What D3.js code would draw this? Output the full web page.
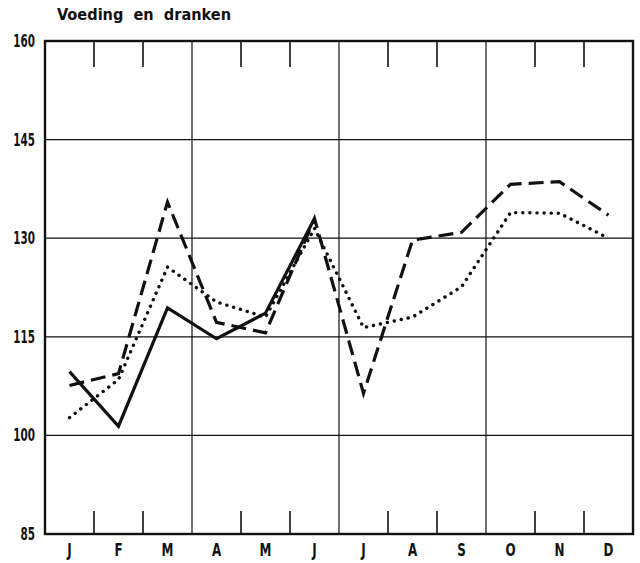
<!DOCTYPE html>
<html>
<head>
<meta charset="utf-8">
<script src="https://cdn.jsdelivr.net/npm/d3@7"></script>
<style>
  body { margin: 0; background: #fff; }
  text { font-family: "DejaVu Sans Condensed", "Liberation Sans Narrow", sans-serif; font-weight: bold; fill: #111; }
</style>
</head>
<body>
<div class="chart"></div>
<script>
// month labels and y ticks
var months = ["J", "F", "M", "A", "M", "J", "J", "A", "S", "O", "N", "D"]
var yTicks = [85, 100, 115, 130, 145, 160]
// three series (solid stops at June)
var solid = [109.7, 101.4, 119.4, 114.7, 118.6, 133.0]
var dashed = [107.6, 109.4, 135.5, 117.2, 115.6, 133.0, 106.4, 129.7, 130.9, 138.2, 138.6, 133.5]
var dotted = [102.7, 108.5, 125.6, 120.3, 118.0, 131.5, 116.4, 118.0, 122.6, 133.9, 133.8, 130.0]

var width = 640
var height = 563
var plotLeft = 45, plotRight = 633, plotTop = 41, plotBottom = 534

var svg = d3.select(".chart")
  .append("svg")
  .attr("width", width)
  .attr("height", height)

var x = d3.scaleBand().domain(d3.range(12)).range([plotLeft, plotRight])
var y = d3.scaleLinear().domain([85, 160]).range([plotBottom, plotTop])

// horizontal grid
svg.selectAll("line.hgrid")
  .data(yTicks.slice(1, -1))
  .enter()
  .append("line")
  .attr("x1", plotLeft).attr("x2", plotRight)
  .attr("y1", d => y(d)).attr("y2", d => y(d))
  .attr("stroke", "#111")
  .attr("stroke-width", 1.2)

// month boundaries: full line every quarter, short ticks otherwise
var bounds = d3.range(1, 12)
svg.selectAll("line.vfull")
  .data(bounds.filter(i => i % 3 == 0))
  .enter()
  .append("line")
  .attr("x1", i => x(i)).attr("x2", i => x(i))
  .attr("y1", plotTop).attr("y2", plotBottom)
  .attr("stroke", "#111")
  .attr("stroke-width", 1.2)

svg.selectAll("line.vtop")
  .data(bounds.filter(i => i % 3 != 0))
  .enter()
  .append("line")
  .attr("x1", i => x(i)).attr("x2", i => x(i))
  .attr("y1", plotTop).attr("y2", plotTop + 26)
  .attr("stroke", "#111")
  .attr("stroke-width", 1.6)

svg.selectAll("line.vbot")
  .data(bounds.filter(i => i % 3 != 0))
  .enter()
  .append("line")
  .attr("x1", i => x(i)).attr("x2", i => x(i))
  .attr("y1", plotBottom).attr("y2", plotBottom - 23)
  .attr("stroke", "#111")
  .attr("stroke-width", 1.6)

// frame
svg.append("rect")
  .attr("x", plotLeft).attr("y", plotTop)
  .attr("width", plotRight - plotLeft).attr("height", plotBottom - plotTop)
  .attr("fill", "none")
  .attr("stroke", "#111")
  .attr("stroke-width", 2.4)

// y labels, narrow like the print
svg.selectAll("g.ylab")
  .data(yTicks)
  .enter()
  .append("g")
  .attr("transform", d => "translate(" + (plotLeft - 10) + "," + (y(d) + 6) + ") scale(0.68,1)")
  .append("text")
  .attr("text-anchor", "end")
  .attr("font-size", 17)
  .text(d => d)

// x labels
svg.selectAll("g.xlab")
  .data(months)
  .enter()
  .append("g")
  .attr("transform", (d, i) => "translate(" + (x(i) + x.bandwidth() / 2) + ",556) scale(0.78,1)")
  .append("text")
  .attr("text-anchor", "middle")
  .attr("font-size", 17)
  .text(d => d)

svg.append("text")
  .attr("x", 57).attr("y", 20)
  .attr("font-size", 16)
  .attr("xml:space", "preserve")
  .attr("textLength", 174)
  .attr("lengthAdjust", "spacingAndGlyphs")
  .text("Voeding  en  dranken")

var line = d3.line()
  .x((d, i) => x(i) + x.bandwidth() / 2)
  .y(d => y(d))

svg.append("path")
  .attr("d", line(dotted))
  .attr("fill", "none")
  .attr("stroke", "#111")
  .attr("stroke-width", 3.4)
  .attr("stroke-linecap", "round")
  .attr("stroke-dasharray", "0.1,7")

svg.append("path")
  .attr("d", line(dashed))
  .attr("fill", "none")
  .attr("stroke", "#111")
  .attr("stroke-width", 3.2)
  .attr("stroke-dasharray", "15,7")

svg.append("path")
  .attr("d", line(solid))
  .attr("fill", "none")
  .attr("stroke", "#111")
  .attr("stroke-width", 3.2)
  .attr("stroke-linejoin", "miter")
</script>
</body>
</html>
